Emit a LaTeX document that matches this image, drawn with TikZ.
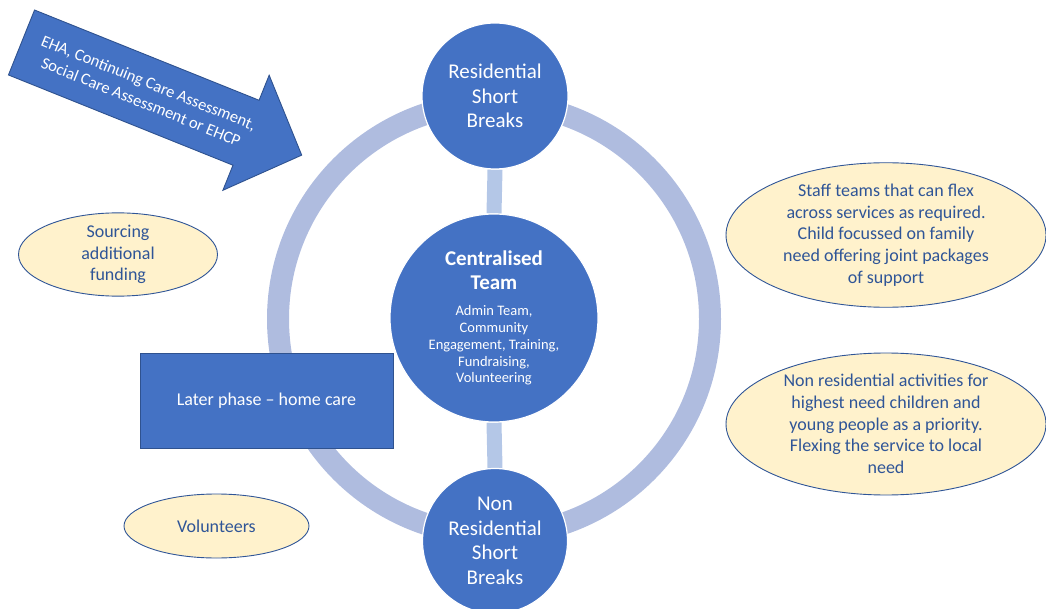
\documentclass[tikz,border=0pt]{standalone}
\usepackage{fontspec}
\setmainfont{Carlito}
\usetikzlibrary{shapes.geometric,backgrounds}
\definecolor{mainblue}{HTML}{4472C4}
\definecolor{edgeblue}{HTML}{2F528F}
\definecolor{ringblue}{HTML}{AFBCDF}
\definecolor{linkblue}{HTML}{B4C7E7}
\definecolor{cream}{HTML}{FFF2CC}
\definecolor{textblue}{HTML}{2F5597}
\newcommand{\ctitle}[1]{{\fontsize{21}{24.5}\selectfont\bfseries #1}}
\begin{document}
\begin{tikzpicture}[x=1pt,y=-1pt,
  bluecircle/.style={circle, fill=mainblue, draw=white, line width=1.2pt, text=white,
    align=center, inner sep=0pt, minimum size=#1},
  note/.style={ellipse, fill=cream, draw=textblue, line width=0.9pt, text=textblue,
    align=center, inner sep=0pt, font=\fontsize{18}{21.7}\selectfont},
  link/.style={linkblue, line width=15pt},
  ringline/.style={ringblue, line width=22pt},
  bluebox/.style={rectangle, fill=mainblue, draw=edgeblue, line width=0.9pt, text=white,
    align=center, inner sep=0pt, font=\fontsize{18}{21.7}\selectfont}
]
\useasboundingbox (0,0) rectangle (1046,609);

% circles
\node[bluecircle=146pt, font=\fontsize{21}{24.5}\selectfont] (top) at (495,96)
  {Residential\\Short\\Breaks};
\node[bluecircle=208pt, font=\fontsize{14.5}{16.7}\selectfont] (centre) at (494,318)
  {\ctitle{Centralised}\\[7pt]\ctitle{Team}\\[10pt]Admin Team,\\Community\\Engagement, Training,\\Fundraising,\\Volunteering};
\node[bluecircle=145pt, font=\fontsize{21}{24.5}\selectfont] (bottom) at (495,541)
  {Non\\Residential\\Short\\Breaks};

\begin{scope}[on background layer]
  \draw[ringline] (494,319) circle[radius=216pt];
  \draw[link] (top.south) -- (centre.north);
  \draw[link] (centre.south) -- (bottom.north);
\end{scope}

% later phase box
\node[bluebox, minimum width=253pt, minimum height=95pt] (later) at (266.5,400.5)
  {Later phase -- home care};

% ellipses
\node[note, minimum width=199pt, minimum height=75pt] (funding) at (118,254.5)
  {Sourcing\\additional\\funding};
\node[note, minimum width=185pt, minimum height=64pt] (volunteers) at (216.5,526)
  {Volunteers};
\node[note, minimum width=320pt, minimum height=144pt] (staff) at (886,235)
  {Staff teams that can flex\\across services as required.\\Child focussed on family\\need offering joint packages\\of support};
\node[note, minimum width=320pt, minimum height=142pt] (nonres) at (886,424)
  {Non residential activities for\\highest need children and\\young people as a priority.\\Flexing the service to local\\need};

% block arrow
\begin{scope}[shift={(21.5,42.5)}, rotate=-21.9]
  \draw[fill=mainblue, draw=edgeblue, line width=0.9pt, line join=miter]
    (0,-35) -- (242,-35) -- (242,-62) -- (302,0) -- (242,62) -- (242,35) -- (0,35) -- cycle;
  \node[transform shape, text=white, align=center, inner sep=0pt,
    font=\fontsize{16.5}{20.5}\selectfont] (arrowtext) at (133,0)
    {EHA, Continuing Care Assessment,\\Social Care Assessment or EHCP};
\end{scope}
\end{tikzpicture}
\end{document}
